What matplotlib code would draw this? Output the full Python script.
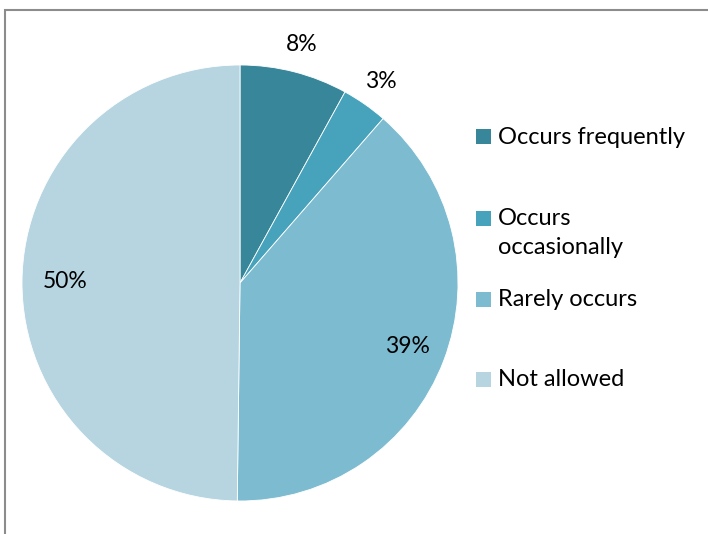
import numpy as np
import matplotlib.pyplot as plt
from matplotlib.patches import Rectangle

# valeurs
categories = ['Occurs frequently', 'Occurs\noccasionally', 'Rarely occurs', 'Not allowed']
values = [8.0, 3.4, 38.8, 49.8]
colors = ['#37869A', '#46A3BB', '#7DBBD1', '#B6D5E0']
label_dist = [1.13, 1.13, 0.82, 0.80]

plt.rcParams['font.family'] = ['Lato', 'DejaVu Sans']

W, H = 708, 534
fig = plt.figure(figsize=(W / 100, H / 100), dpi=100)

# cadre gris (coupé à droite et en bas)
fig.patches.append(Rectangle((5 / W, -0.1), 1.2, 1 - 10 / H + 0.1,
                             transform=fig.transFigure, fill=False,
                             edgecolor='#8c8c8c', linewidth=1.5))

ax = fig.add_axes([0.0311, 0.0618, 0.6158, 0.8165])
wedges, _ = ax.pie(values, colors=colors, startangle=90, counterclock=False,
                   wedgeprops=dict(linewidth=0.6, edgecolor='white'))
ax.set_xlim(-1, 1)
ax.set_ylim(-1, 1)
ax.set_aspect('equal')

# étiquettes de pourcentage
for w, v, d in zip(wedges, values, label_dist):
    ang = np.deg2rad((w.theta1 + w.theta2) / 2)
    ax.text(d * np.cos(ang), d * np.sin(ang), '%.0f%%' % v,
            ha='center', va='center', fontsize=16.5)

# légende faite à la main (espacement irrégulier comme Excel)
sq_y = [137, 218, 299, 379]     # centre des carrés, en pixels depuis le haut
txt_y = [137, 233, 299, 379]    # centre des textes
for lab, c, sy, ty in zip(categories, colors, sq_y, txt_y):
    fig.patches.append(Rectangle((476 / W, 1 - (sy + 7.5) / H), 15 / W, 15 / H,
                                 transform=fig.transFigure, facecolor=c,
                                 edgecolor='none'))
    fig.text(498 / W, 1 - ty / H, lab, ha='left', va='center',
             fontsize=17, linespacing=1.45)

fig.savefig('out.png', dpi=100)
